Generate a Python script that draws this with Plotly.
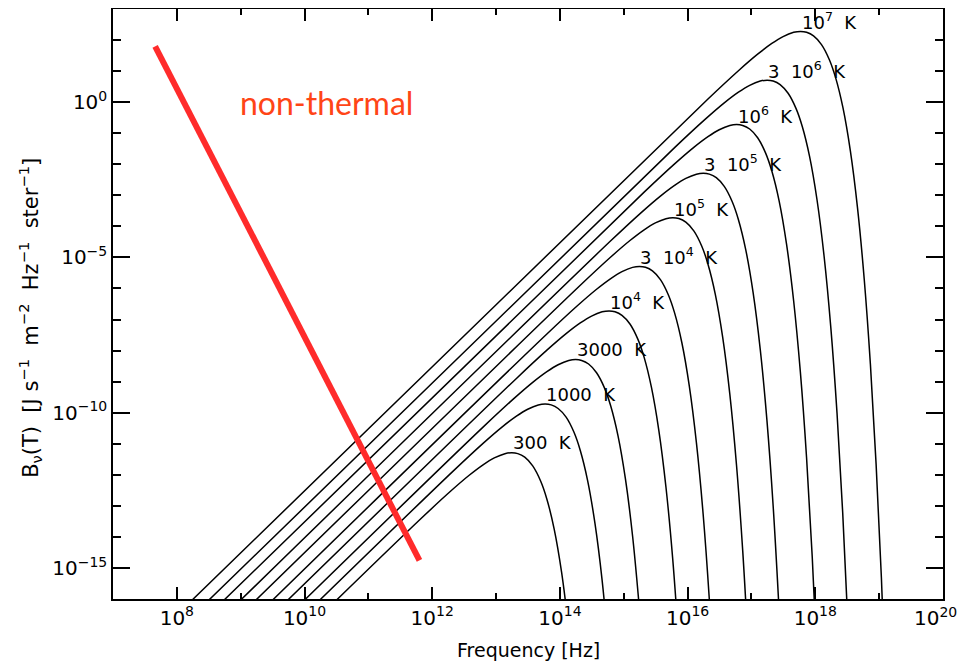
import plotly.graph_objects as go

# ---- data (log10 values) ----
labels = ["300\u00a0\u00a0K", "1000\u00a0\u00a0K", "3000\u00a0\u00a0K", "10<sup>4</sup>\u00a0\u00a0K",
          "3\u00a0\u00a010<sup>4</sup>\u00a0\u00a0K", "10<sup>5</sup>\u00a0\u00a0K",
          "3\u00a0\u00a010<sup>5</sup>\u00a0\u00a0K", "10<sup>6</sup>\u00a0\u00a0K",
          "3\u00a0\u00a010<sup>6</sup>\u00a0\u00a0K", "10<sup>7</sup>\u00a0\u00a0K"]

log_nu_300 = [10.018, 11.796, 12.273, 12.574, 12.796, 12.972, 13.138, 13.246, 13.340, 13.449, 13.574, 13.699, 13.796, 13.910, 14.026, 14.138]
log_B_300 = [-17.0, -13.465, -12.556, -12.024, -11.679, -11.457, -11.321, -11.291, -11.318, -11.433, -11.714, -12.208, -12.786, -13.748, -15.135, -16.971]

log_nu_1000 = [9.756, 12.319, 12.796, 13.097, 13.319, 13.495, 13.661, 13.769, 13.863, 13.972, 14.097, 14.222, 14.319, 14.433, 14.549, 14.661, 14.766]
log_B_1000 = [-17.0, -11.897, -10.987, -10.455, -10.110, -9.888, -9.752, -9.722, -9.749, -9.865, -10.145, -10.640, -11.218, -12.179, -13.567, -15.402, -17.694]

log_nu_3000 = [9.518, 12.796, 13.273, 13.574, 13.796, 13.972, 14.138, 14.246, 14.340, 14.449, 14.574, 14.699, 14.796, 14.910, 15.026, 15.138, 15.243]
log_B_3000 = [-17.0, -10.465, -9.556, -9.024, -8.679, -8.457, -8.321, -8.291, -8.318, -8.433, -8.714, -9.208, -9.786, -10.748, -12.135, -13.971, -16.262]

log_nu_1e4 = [9.256, 13.319, 13.796, 14.097, 14.319, 14.495, 14.661, 14.769, 14.863, 14.972, 15.097, 15.222, 15.319, 15.433, 15.549, 15.661, 15.766, 15.863]
log_B_1e4 = [-17.0, -8.897, -7.987, -7.455, -7.110, -6.888, -6.752, -6.722, -6.749, -6.865, -7.145, -7.640, -8.218, -9.179, -10.567, -12.402, -14.694, -17.443]

log_nu_3e4 = [9.018, 13.796, 14.273, 14.574, 14.796, 14.972, 15.138, 15.246, 15.340, 15.449, 15.574, 15.699, 15.796, 15.910, 16.026, 16.138, 16.243, 16.340, 16.429]
log_B_3e4 = [-17.0, -7.465, -6.556, -6.024, -5.679, -5.457, -5.321, -5.291, -5.318, -5.433, -5.714, -6.208, -6.786, -7.748, -9.135, -10.971, -13.262, -16.012, -19.218]

log_nu_1e5 = [8.756, 14.319, 14.796, 15.097, 15.319, 15.495, 15.661, 15.769, 15.863, 15.972, 16.097, 16.222, 16.319, 16.433, 16.549, 16.661, 16.766, 16.863, 16.952]
log_B_1e5 = [-17.0, -5.897, -4.987, -4.455, -4.110, -3.888, -3.752, -3.722, -3.749, -3.865, -4.145, -4.640, -5.218, -6.179, -7.567, -9.402, -11.694, -14.443, -17.649]

log_nu_3e5 = [8.518, 14.796, 15.273, 15.574, 15.796, 15.972, 16.138, 16.246, 16.340, 16.449, 16.574, 16.699, 16.796, 16.910, 17.026, 17.138, 17.243, 17.340, 17.429]
log_B_3e5 = [-17.0, -4.465, -3.556, -3.024, -2.679, -2.457, -2.321, -2.291, -2.318, -2.433, -2.714, -3.208, -3.786, -4.748, -6.135, -7.971, -10.262, -13.012, -16.218]

log_nu_1e6 = [8.256, 15.319, 15.796, 16.097, 16.319, 16.495, 16.661, 16.769, 16.863, 16.972, 17.097, 17.222, 17.319, 17.433, 17.549, 17.661, 17.766, 17.863, 17.952, 18.035]
log_B_1e6 = [-17.0, -2.897, -1.987, -1.455, -1.110, -0.888, -0.752, -0.722, -0.749, -0.865, -1.145, -1.640, -2.218, -3.179, -4.567, -6.402, -8.694, -11.443, -14.649, -18.310]

log_nu_3e6 = [8.018, 15.796, 16.273, 16.574, 16.796, 16.972, 17.138, 17.246, 17.340, 17.449, 17.574, 17.699, 17.796, 17.910, 18.026, 18.138, 18.243, 18.340, 18.429, 18.512]
log_B_3e6 = [-17.0, -1.465, -0.556, -0.024, 0.321, 0.543, 0.679, 0.709, 0.682, 0.567, 0.286, -0.208, -0.786, -1.748, -3.135, -4.971, -7.262, -10.012, -13.218, -16.879]

log_nu_1e7 = [7.756, 16.319, 16.796, 17.097, 17.319, 17.495, 17.661, 17.769, 17.863, 17.972, 18.097, 18.222, 18.319, 18.433, 18.549, 18.661, 18.766, 18.863, 18.952, 19.035, 19.111]
log_B_1e7 = [-17.0, 0.103, 1.013, 1.545, 1.890, 2.112, 2.248, 2.278, 2.251, 2.135, 1.855, 1.360, 0.782, -0.179, -1.567, -3.402, -5.694, -8.443, -11.649, -15.310, -19.424]

log_nu_nonthermal = [7.66, 11.80]
log_B_nonthermal = [1.80, -14.76]

x_tick_exp = [8, 10, 12, 14, 16, 18, 20]
y_tick_exp = [0, -5, -10, -15]

curves_nu = [log_nu_300, log_nu_1000, log_nu_3000, log_nu_1e4, log_nu_3e4,
             log_nu_1e5, log_nu_3e5, log_nu_1e6, log_nu_3e6, log_nu_1e7]
curves_B = [log_B_300, log_B_1000, log_B_3000, log_B_1e4, log_B_3e4,
            log_B_1e5, log_B_3e5, log_B_1e6, log_B_3e6, log_B_1e7]

FONT = "DejaVu Sans"
fig = go.Figure()

for lx, ly in zip(curves_nu, curves_B):
    fig.add_trace(go.Scatter(
        x=[10.0 ** v for v in lx], y=[10.0 ** v for v in ly],
        mode="lines", line=dict(color="black", width=1.5, shape="spline", smoothing=1.0),
        showlegend=False, hoverinfo="skip"))

fig.add_trace(go.Scatter(
    x=[10.0 ** v for v in log_nu_nonthermal], y=[10.0 ** v for v in log_B_nonthermal],
    mode="lines", line=dict(color="#ff2b2b", width=6), showlegend=False, hoverinfo="skip"))

# curve labels just above each peak
for lab, lx, ly in zip(labels, curves_nu, curves_B):
    i = ly.index(max(ly))
    fig.add_annotation(x=lx[i], y=ly[i], xref="x", yref="y", text=lab,
                       showarrow=False, xanchor="left", yanchor="middle",
                       xshift=0, yshift=10, borderpad=0,
                       font=dict(family=FONT, size=18, color="black"))

fig.add_annotation(x=0.150, y=0.842, xref="paper", yref="paper", text="non-thermal",
                   showarrow=False, xanchor="left", yanchor="middle",
                   font=dict(family="Lato", size=32, color="#ff4516"))

fig.add_annotation(x=0.5, y=-0.086, xref="paper", yref="paper", text="Frequency [Hz]",
                   showarrow=False, xanchor="center", yanchor="middle",
                   font=dict(family=FONT, size=19, color="black"))
fig.add_annotation(x=-0.100, y=0.4765, xref="paper", yref="paper",
                   text="B<sub>\u03bd</sub>(T)\u00a0\u00a0[J\u00a0s<sup>\u22121</sup>\u00a0\u00a0m<sup>\u22122</sup>\u00a0\u00a0Hz<sup>\u22121</sup>\u00a0\u00a0ster<sup>\u22121</sup>]",
                   showarrow=False, textangle=-90, xanchor="center", yanchor="middle",
                   font=dict(family=FONT, size=21, color="black"))

# the last x tick label sits at the window edge; draw it nudged slightly left so it stays whole
last_exp = x_tick_exp[-1]
fig.add_annotation(x=last_exp, y=-0.031, xref="x", yref="paper",
                   text="10<sup>%d</sup>" % last_exp, showarrow=False,
                   xanchor="center", yanchor="middle", xshift=-8, borderpad=0,
                   font=dict(family=FONT, size=20, color="black"))

axis_common = dict(type="log", showgrid=False, zeroline=False, showline=True,
                   linecolor="black", linewidth=1.5, mirror="ticks", ticks="inside",
                   tickcolor="black", tickwidth=1.5, automargin=False,
                   tickfont=dict(family=FONT, size=20, color="black"))

fig.update_xaxes(**axis_common, range=[7, 20], tickmode="array",
                 tickvals=[10.0 ** e for e in x_tick_exp],
                 ticktext=["10<sup>%d</sup>" % e if e != last_exp else "" for e in x_tick_exp],
                 ticklen=12,
                 minor=dict(tickmode="array", tickvals=[10.0 ** e for e in range(7, 21, 2)],
                            ticks="inside", ticklen=6, tickcolor="black", tickwidth=1.5))
fig.update_yaxes(**axis_common, range=[-16, 3], tickmode="array",
                 tickvals=[10.0 ** e for e in y_tick_exp],
                 ticktext=[("10<sup>%d</sup>" % e).replace("-", "\u2212") for e in y_tick_exp],
                 ticklen=17,
                 minor=dict(tickmode="array",
                            tickvals=[10.0 ** e for e in range(-16, 4) if e not in y_tick_exp],
                            ticks="inside", ticklen=8, tickcolor="black", tickwidth=1.5))

# the page body adds an 8 px offset; margins compensate so the plot area lands where the reference has it
fig.update_layout(width=965, height=661,
                  margin=dict(l=105, r=30, t=1, b=70, autoexpand=False),
                  paper_bgcolor="white", plot_bgcolor="white")

fig.write_html("out.html")
